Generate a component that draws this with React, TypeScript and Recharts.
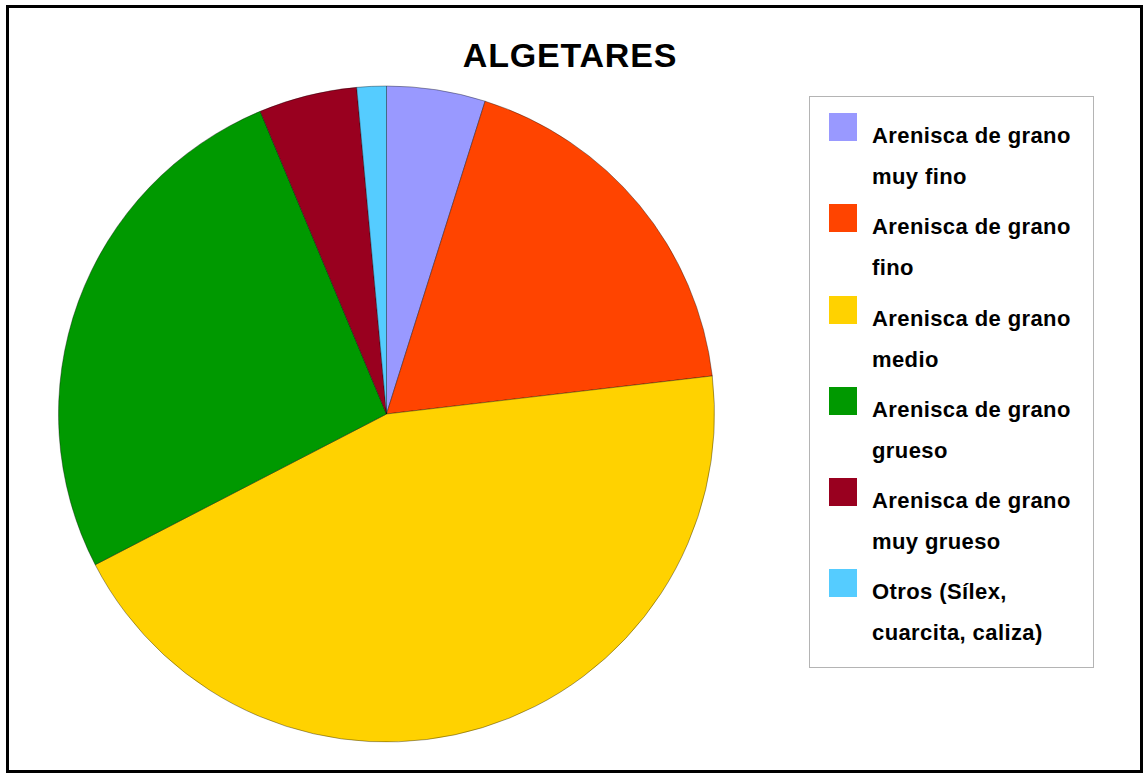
import React from 'react';
import { PieChart, Pie, Cell, Legend } from 'recharts';

const categories = [
  'Arenisca de grano muy fino',
  'Arenisca de grano fino',
  'Arenisca de grano medio',
  'Arenisca de grano grueso',
  'Arenisca de grano muy grueso',
  'Otros (Sílex, cuarcita, caliza)',
];
const shares = [4.86, 18.29, 44.25, 26.31, 4.84, 1.45];
const colors = ['#9999FF', '#FF4400', '#FFD200', '#009900', '#99001F', '#55CCFF'];

const pieData = categories.map((name, i) => ({ name, value: shares[i] }));

const font = '"Liberation Sans", Arial, sans-serif';

const renderLegend = () => (
  <div
    style={{
      width: 285, height: 572, boxSizing: 'border-box', border: '1px solid #B4B4B4',
      background: '#fff', paddingTop: 16, paddingLeft: 19, fontFamily: font,
    }}
  >
    {categories.map((name, i) => (
      <div key={name} style={{ display: 'flex', alignItems: 'flex-start', height: 91.3 }}>
        <div style={{ width: 28, height: 28, background: colors[i], flexShrink: 0 }} />
        <div
          style={{
            marginLeft: 15, marginTop: 2, width: 212, fontSize: 22, lineHeight: '41px',
            fontWeight: 'bold', letterSpacing: 0.4, color: '#000',
          }}
        >
          {name}
        </div>
      </div>
    ))}
  </div>
);

const App: React.FC = () => {
  return (
    <div style={{ position: 'absolute', left: 0, top: 0, width: 1144, height: 774, background: '#fff' }}>
      <div
        style={{
          position: 'absolute', left: 6, top: 5, width: 1137, height: 768,
          border: '3px solid #000', boxSizing: 'border-box',
        }}
      />
      <div
        style={{
          position: 'absolute', left: 0, top: 38, width: 1140, textAlign: 'center',
          fontFamily: font, fontWeight: 'bold', fontSize: 34, lineHeight: '34px', letterSpacing: 0.8,
        }}
      >
        ALGETARES
      </div>
      <div style={{ position: 'absolute', left: 0, top: 0 }}>
        <PieChart width={1144} height={774} margin={{ top: 0, right: 0, bottom: 0, left: 0 }}>
          <Pie
            data={pieData}
            dataKey="value"
            nameKey="name"
            cx={386.5}
            cy={414}
            outerRadius={328}
            startAngle={90}
            endAngle={-270}
            stroke="rgba(0,0,0,0.45)"
            strokeWidth={0.8}
            isAnimationActive={false}
          >
            {pieData.map((d, i) => <Cell key={d.name} fill={colors[i]} />)}
          </Pie>
          <Legend
            content={renderLegend}
            wrapperStyle={{ position: 'absolute', left: 809, top: 96, width: 285, height: 572 }}
          />
        </PieChart>
      </div>
    </div>
  );
};

export default App;
